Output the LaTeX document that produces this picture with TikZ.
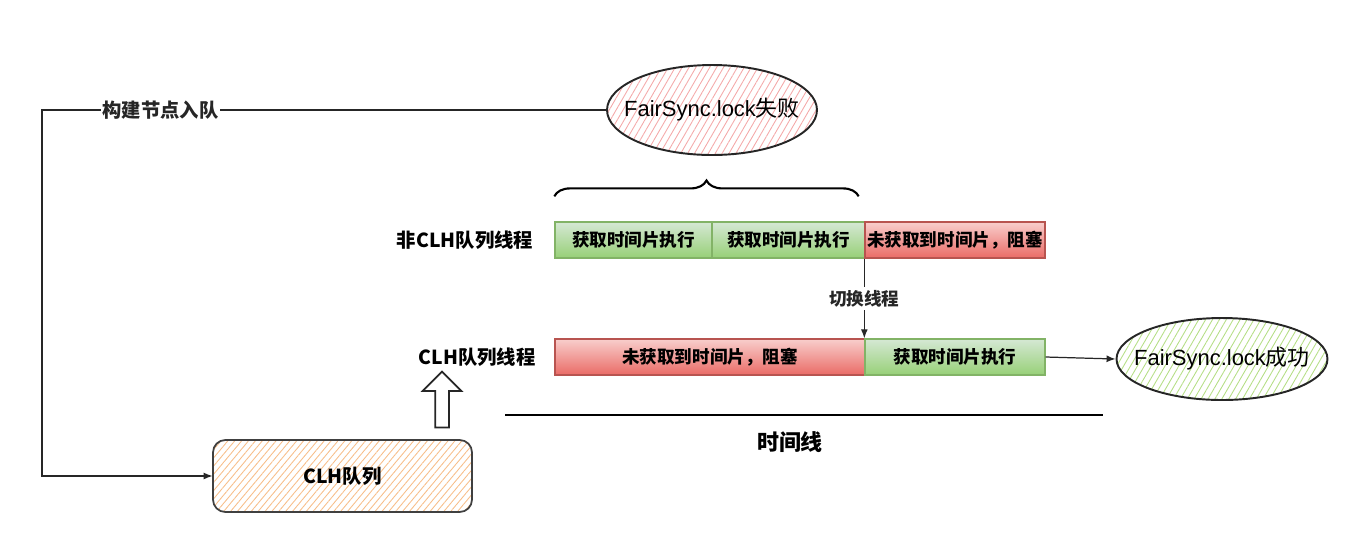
\documentclass[tikz,border=0pt]{standalone}
\usepackage{fontspec}
\setmainfont{Noto Sans CJK SC}
\newfontfamily\lat{Liberation Sans}
\usepackage{tikz}
\usetikzlibrary{shapes.geometric,shapes.arrows,arrows.meta,positioning,calc,patterns.meta,decorations.pathreplacing}
\definecolor{okf}{HTML}{D5E8D4}
\definecolor{okg}{HTML}{97D077}
\definecolor{okd}{HTML}{82B366}
\definecolor{blf}{HTML}{F8CECC}
\definecolor{blg}{HTML}{EA6B66}
\definecolor{bld}{HTML}{B85450}
\definecolor{hred}{HTML}{F4A9A9}
\definecolor{hgrn}{HTML}{B5DE86}
\definecolor{horg}{HTML}{F7BE8A}

\begin{document}
\begin{tikzpicture}[x=0.02cm,y=-0.02cm,
  slot/.style={draw,line width=0.8pt,inner sep=0pt,minimum height=0.72cm,
               font=\fontsize{10}{12}\selectfont\bfseries,align=center},
  ok/.style={slot,top color=okf,bottom color=okg,draw=okd},
  blk/.style={slot,top color=blf,bottom color=blg,draw=bld},
  oval/.style={ellipse,draw=black!85,line width=1.1pt,inner ysep=0pt,inner xsep=-0.3cm,
               font=\fontsize{12.5}{14}\selectfont},
  lbl/.style={font=\fontsize{11}{13}\selectfont\bfseries},
  tip/.style={-{Latex[length=1.8mm,width=1.4mm]},line width=0.7pt,black!85}]

\useasboundingbox (0,0) rectangle (1348,532);

% result of lock
\node[oval,minimum width=4.2cm,minimum height=1.8cm,
      pattern={Lines[angle=60,distance=3.4pt,line width=0.5pt]},pattern color=hred]
  (fail) at (712,110) {{\lat FairSync.lock}失败};
\node[oval,minimum width=4.22cm,minimum height=1.64cm,
      pattern={Lines[angle=60,distance=3.4pt,line width=0.5pt]},pattern color=hgrn]
  (win) at (1222,359) {{\lat FairSync.lock}成功};

% queue
\node[draw=black!75,line width=1pt,rounded corners=7pt,minimum width=5.18cm,
      minimum height=1.44cm,pattern={Lines[angle=50,distance=3pt,line width=0.5pt]},
      pattern color=horg,lbl] (clh) at (342.5,476) {CLH队列};
\node[single arrow,draw=black!85,line width=1pt,shape border rotate=90,
      inner sep=0.12cm,minimum height=1.12cm,single arrow head extend=0.25cm]
  (up) at (442,403) {};

% thread rows
\node[lbl] (row1) at (465,240) {非CLH队列线程};
\node[lbl] (row2) at (477,357) {CLH队列线程};

\node[ok,minimum width=3.14cm]  (a1) at (633.5,240) {获取时间片执行};
\node[ok,minimum width=3.06cm]  (a2) at (788.5,240) {获取时间片执行};
\node[blk,minimum width=3.6cm]  (a3) at (955,240)   {未获取到时间片，阻塞};

\node[blk,minimum width=6.2cm]  (b1) at (710,357)   {未获取到时间片，阻塞};
\node[ok,minimum width=3.6cm]   (b2) at (955,357)   {获取时间片执行};

\draw[decorate,decoration={brace,amplitude=9pt},line width=1.2pt]
  ([yshift=25*0.02cm]a1.north west) -- ([yshift=25*0.02cm,xshift=-7*0.02cm]a2.north east);

% connectors
\coordinate (turn) at (42,110);
\draw[tip] (fail.west) -- node[pos=0.79,fill=white,inner sep=1pt,lbl]{构建节点入队}
  (turn) |- (clh.west);
\draw[tip] (a3.south west) -- node[fill=white,inner sep=2pt,
  font=\fontsize{10}{12}\selectfont\bfseries]{切换线程} (b2.north west);
\draw[tip] (b2.east) -- (win.west);

% time line
\draw[line width=1.3pt] (505,415) -- (1103,415);
\node[font=\fontsize{12.5}{15}\selectfont\bfseries] (time) at (790,442) {时间线};
\end{tikzpicture}
\end{document}
